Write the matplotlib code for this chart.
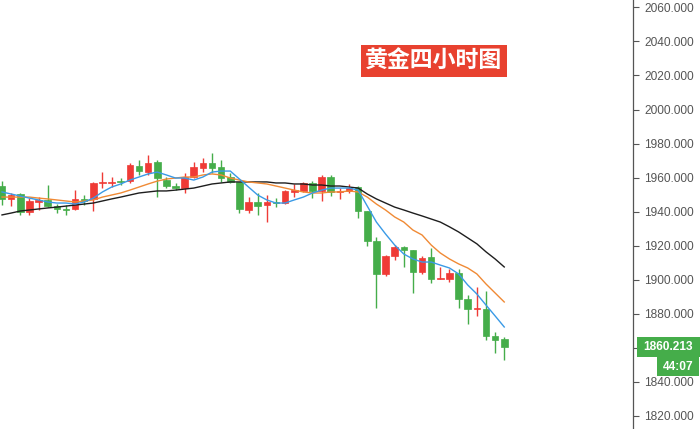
import matplotlib
matplotlib.use("Agg")
import matplotlib.pyplot as plt
from matplotlib.patches import Rectangle
import numpy as np

# ---- data ----
opens = [1955.0, 1947.4, 1950.3, 1939.7, 1945.6, 1946.8, 1943.2, 1941.5, 1941.5, 1947.4,
         1947.4, 1956.8, 1956.8, 1957.9, 1957.9, 1966.8, 1963.2, 1969.1, 1958.5, 1955.0,
         1953.8, 1960.3, 1965.6, 1968.5, 1966.2, 1960.3, 1957.4, 1940.9, 1945.6, 1943.8,
         1945.6, 1945.0, 1951.5, 1952.1, 1956.8, 1952.1, 1960.3, 1951.5, 1952.1, 1954.4,
         1940.3, 1922.7, 1903.3, 1913.9, 1919.2, 1917.4, 1904.5, 1913.3, 1900.4, 1900.4,
         1903.9, 1888.6, 1882.4, 1882.7, 1866.8, 1865.0]
highs = [1957.9, 1950.9, 1950.9, 1947.9, 1948.5, 1955.6, 1944.4, 1943.8, 1952.6, 1949.7,
         1957.3, 1963.2, 1960.3, 1959.7, 1968.5, 1970.3, 1973.2, 1970.3, 1960.3, 1956.8,
         1962.6, 1969.1, 1971.5, 1974.4, 1970.3, 1962.6, 1957.4, 1948.5, 1950.9, 1949.7,
         1948.0, 1952.6, 1956.2, 1957.3, 1957.9, 1961.5, 1961.5, 1953.8, 1956.2, 1955.0,
         1940.3, 1925.0, 1914.5, 1920.3, 1919.7, 1917.4, 1913.9, 1918.6, 1907.4, 1906.2,
         1906.2, 1891.0, 1895.7, 1893.3, 1869.2, 1866.2]
lows = [1943.8, 1943.2, 1937.9, 1937.9, 1940.9, 1942.6, 1939.1, 1937.9, 1940.9, 1943.8,
        1940.3, 1953.8, 1954.4, 1955.6, 1956.8, 1961.5, 1961.5, 1948.5, 1953.8, 1952.6,
        1950.9, 1959.7, 1963.2, 1962.6, 1957.4, 1956.8, 1939.1, 1939.1, 1937.9, 1933.6,
        1942.6, 1944.4, 1948.5, 1951.5, 1948.0, 1946.2, 1949.1, 1947.4, 1950.9, 1936.2,
        1919.7, 1883.3, 1902.1, 1911.5, 1907.4, 1892.1, 1903.3, 1898.0, 1900.4, 1898.6,
        1883.3, 1873.9, 1878.6, 1864.5, 1856.8, 1852.7]
closes = [1947.4, 1949.7, 1939.7, 1946.2, 1946.8, 1943.2, 1941.5, 1940.9, 1947.4, 1946.2,
          1956.8, 1957.3, 1957.3, 1957.3, 1967.3, 1963.8, 1968.5, 1959.7, 1955.0, 1953.8,
          1960.3, 1966.2, 1968.5, 1965.6, 1959.7, 1957.4, 1941.5, 1945.6, 1943.2, 1945.6,
          1945.0, 1952.1, 1952.6, 1956.8, 1952.1, 1960.3, 1951.5, 1952.1, 1953.8, 1940.3,
          1922.7, 1903.3, 1913.9, 1919.2, 1917.4, 1904.5, 1912.7, 1900.4, 1901.0, 1903.9,
          1888.6, 1882.7, 1882.7, 1866.8, 1864.5, 1860.213]
ma_fast = [1951.5, 1950.3, 1949.1, 1947.9, 1946.8, 1945.6, 1945.0, 1945.0, 1944.4, 1945.6,
           1947.9, 1951.5, 1954.4, 1956.2, 1958.5, 1960.3, 1962.1, 1963.2, 1961.5, 1959.7,
           1959.7, 1958.5, 1960.3, 1963.2, 1963.8, 1963.8, 1959.1, 1954.4, 1949.7, 1946.8,
           1945.0, 1945.0, 1946.8, 1948.5, 1950.9, 1952.6, 1953.8, 1953.8, 1953.8, 1952.6,
           1943.2, 1933.8, 1926.8, 1920.3, 1915.0, 1912.1, 1910.3, 1910.3, 1908.5, 1906.8,
           1903.3, 1896.8, 1891.5, 1885.0, 1878.6, 1872.1]
ma_mid = [1948.5, 1948.5, 1948.5, 1948.5, 1947.9, 1947.4, 1946.8, 1946.2, 1945.6, 1946.2,
          1946.8, 1948.5, 1949.7, 1950.9, 1952.6, 1954.4, 1956.2, 1957.9, 1959.1, 1959.7,
          1960.3, 1960.3, 1961.5, 1962.1, 1961.5, 1959.7, 1958.5, 1957.4, 1956.8, 1956.2,
          1955.0, 1953.8, 1952.6, 1951.5, 1950.9, 1950.9, 1951.5, 1951.5, 1952.1, 1951.5,
          1948.5, 1944.4, 1940.9, 1936.8, 1933.8, 1929.1, 1926.2, 1920.3, 1915.6, 1912.1,
          1909.2, 1906.8, 1903.3, 1897.4, 1892.1, 1886.8]
ma_slow = [1938.0, 1939.1, 1940.3, 1940.9, 1941.5, 1942.1, 1942.6, 1943.2, 1943.8, 1944.4,
           1945.0, 1946.2, 1947.4, 1948.5, 1949.7, 1950.9, 1951.5, 1952.1, 1952.1, 1952.6,
           1953.2, 1953.8, 1955.0, 1956.2, 1956.8, 1957.4, 1957.4, 1957.4, 1957.4, 1957.4,
           1956.8, 1956.8, 1956.2, 1956.2, 1955.6, 1955.6, 1955.0, 1955.0, 1954.4, 1953.8,
           1950.3, 1947.4, 1945.0, 1942.6, 1940.9, 1939.1, 1937.4, 1935.6, 1933.8, 1931.0,
           1928.0, 1924.5, 1921.0, 1916.3, 1912.1, 1907.4]
y_ticks = [1820, 1840, 1860, 1880, 1900, 1920, 1940, 1960, 1980, 2000, 2020, 2040, 2060]
last_price_label = "1860.213"
countdown_label = "44:07"
title_text = "黄金四小时图"

UP = "#ef3b36"
DOWN = "#45ad4a"

fig = plt.figure(figsize=(7.0, 4.29), dpi=100)
ax = fig.add_axes([0, 0, 633 / 700, 1])
n = len(closes)
x = np.arange(n)

for i in range(n):
    o, h, l, c = opens[i], highs[i], lows[i], closes[i]
    col = UP if c >= o else DOWN
    ax.vlines(x[i], l, h, color=col, linewidth=1.0, zorder=2)
    bot = min(o, c)
    ht = max(abs(c - o), 0.6)
    ax.add_patch(Rectangle((x[i] - 0.36, bot), 0.72, ht, facecolor=col,
                           edgecolor=col, linewidth=0.5, zorder=3))

ax.plot(x, ma_slow, color="#1e1e1e", linewidth=1.0, zorder=4)
ax.plot(x, ma_mid, color="#f08a35", linewidth=1.0, zorder=4)
ax.plot(x, ma_fast, color="#3a9ae6", linewidth=1.0, zorder=4)

ax.set_xlim(-0.22, 69.1)
ax.set_ylim(1812.1, 2064.4)
ax.set_xticks([])
ax.yaxis.tick_right()
ax.set_yticks(y_ticks)
ax.set_yticklabels(["" if v == 1860 else f"{v:.3f}" for v in y_ticks])
ax.tick_params(axis="y", direction="out", length=4, width=0.8, color="#555555",
               labelcolor="#555555", labelsize=8.6, pad=4)
for lbl in ax.get_yticklabels():
    lbl.set_fontfamily("Liberation Sans")
for s in ["top", "left", "bottom"]:
    ax.spines[s].set_visible(False)
ax.spines["right"].set_color("#555555")
ax.spines["right"].set_linewidth(0.9)

# last price tag and countdown (figure-pixel boxes)
W, H = 700.0, 429.0
fig.patches.append(Rectangle((637 / W, 1 - 357 / H), 63 / W, 20 / H,
                             transform=fig.transFigure, facecolor=DOWN,
                             edgecolor="none", zorder=5))
fig.patches.append(Rectangle((657 / W, 1 - 376 / H), 42 / W, 19 / H,
                             transform=fig.transFigure, facecolor=DOWN,
                             edgecolor="none", zorder=5))
fig.text(668 / W, 1 - 347 / H, last_price_label, ha="center", va="center",
         color="white", fontsize=8.6, fontweight="bold", family="Liberation Sans",
         zorder=6)
fig.text(678 / W, 1 - 366.5 / H, countdown_label, ha="center", va="center",
         color="white", fontsize=8.6, fontweight="bold", family="Liberation Sans",
         zorder=6)

# title tag
fig.text(434 / W, 1 - 61 / H, title_text, ha="center", va="center",
         color="white", fontsize=16.5, fontweight="bold",
         family=["Noto Sans CJK SC", "DejaVu Sans"],
         bbox=dict(boxstyle="square,pad=0.2", facecolor="#e8412f", edgecolor="none"))

fig.savefig("out.png", dpi=100)
